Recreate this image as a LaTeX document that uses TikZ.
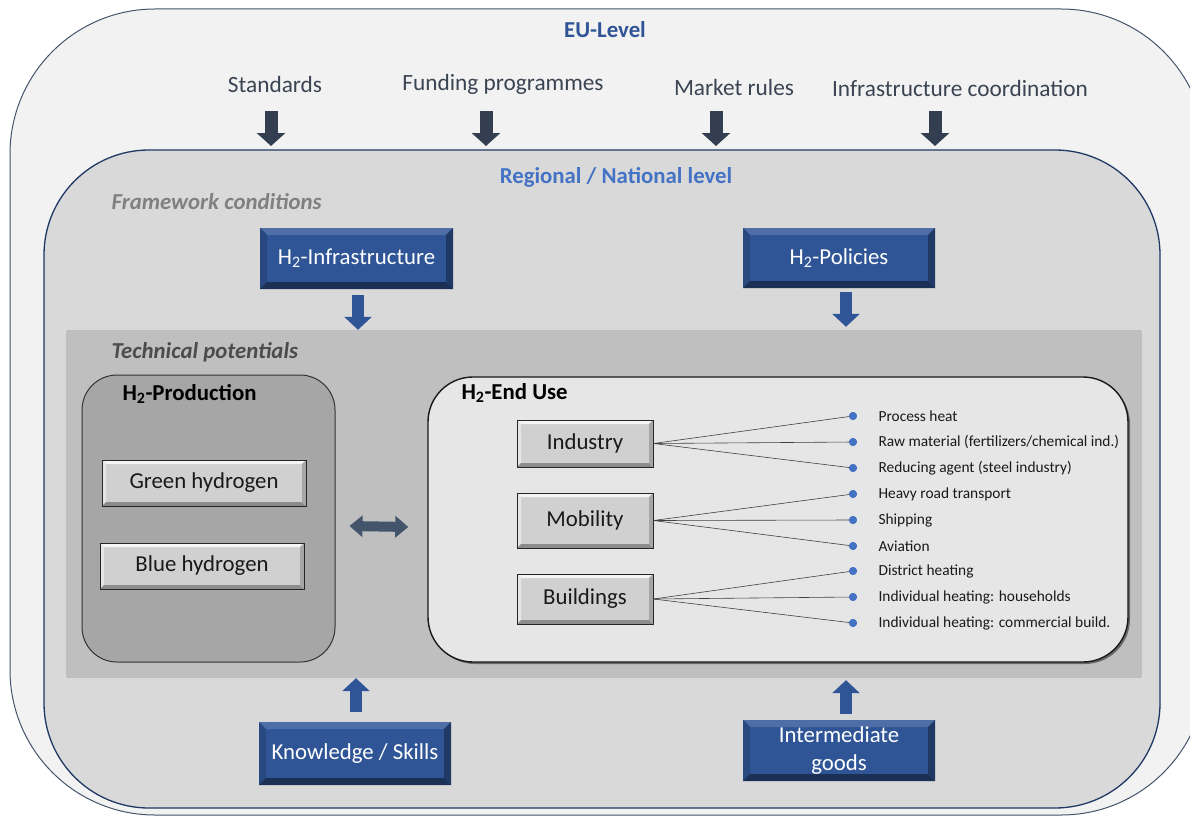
\documentclass[tikz,border=0pt]{standalone}
\usepackage{fontspec}
\setmainfont{Carlito}
\usetikzlibrary{arrows.meta,shadows,calc}
\definecolor{eubg}{HTML}{F2F2F2}
\definecolor{eubd}{HTML}{44546A}
\definecolor{regbg}{HTML}{D9D9D9}
\definecolor{regbd}{HTML}{1F3864}
\definecolor{techbg}{HTML}{BFBFBF}
\definecolor{prodbg}{HTML}{A6A6A6}
\definecolor{endbg}{HTML}{E6E6E6}
\definecolor{eutxt}{HTML}{2F5597}
\definecolor{regtxt}{HTML}{4472C4}
\definecolor{toptxt}{HTML}{3B4452}
\definecolor{toparr}{HTML}{333F50}
\definecolor{bluebox}{HTML}{2F5597}
\definecolor{bluearr}{HTML}{2F5597}
\definecolor{dblarr}{HTML}{44546A}
\definecolor{dotblue}{HTML}{4472C4}
\definecolor{btngray}{HTML}{D0D0D0}
\newcommand\mybevel[5]{%
  \path (path picture bounding box.north west) coordinate (bnw)
        (path picture bounding box.north east) coordinate (bne)
        (path picture bounding box.south east) coordinate (bse)
        (path picture bounding box.south west) coordinate (bsw);
  \fill[#1] (bnw) -- (bne) -- ([xshift=-#5,yshift=-#5]bne) -- ([xshift=#5,yshift=-#5]bnw) -- cycle;
  \fill[#2] (bnw) -- (bsw) -- ([xshift=#5,yshift=#5]bsw) -- ([xshift=#5,yshift=-#5]bnw) -- cycle;
  \fill[#3] (bsw) -- (bse) -- ([xshift=-#5,yshift=#5]bse) -- ([xshift=#5,yshift=#5]bsw) -- cycle;
  \fill[#4] (bne) -- (bse) -- ([xshift=-#5,yshift=#5]bse) -- ([xshift=-#5,yshift=-#5]bne) -- cycle;
}
\begin{document}
\begin{tikzpicture}[x=1pt,y=-1pt,
  gbtn/.style={draw=black!85, line width=0.8pt, fill=btngray, inner sep=0pt,
    font=\fontsize{22.8}{26}\selectfont, text=black!90,
    path picture={\mybevel{white!92!gray}{white!80!gray}{black!45}{black!35}{4pt}}},
  bbox/.style={draw=none, fill=bluebox, inner sep=0pt, text=white,
    font=\fontsize{22.8}{28}\selectfont, align=center,
    path picture={\mybevel{bluebox!85!white}{bluebox!85!black}{regbd!85!black}{regbd}{7pt}}},
  toplbl/.style={font=\fontsize{23.3}{26}\selectfont, text=toptxt},
  toparrow/.style={draw=toparr, line width=13pt, -{Triangle[width=28pt,length=13pt]}},
  bluearrow/.style={draw=bluearr, line width=12.5pt, -{Triangle[width=27pt,length=13pt]}},
  dblarrow/.style={draw=dblarr, line width=10pt, {Triangle[width=21pt,length=13pt]}-{Triangle[width=21pt,length=13pt]}},
  leaf/.style={draw=black!75, line width=0.6pt},
  dot/.style={circle, fill=dotblue, minimum size=8pt, inner sep=0pt},
  usetxt/.style={anchor=west, font=\fontsize{15.4}{18}\selectfont, text=black!90},
  hdr/.style={anchor=west, font=\bfseries\fontsize{22.8}{26}\selectfont}
]
\useasboundingbox (0,0) rectangle (1190,816);
\begin{scope}
\clip (0,0) rectangle (1190,816);
\node[draw=eubd, line width=1pt, fill=eubg, rounded corners=145pt, minimum width=1196pt, minimum height=806pt, inner sep=0pt] (eu) at (608,412) {};
\end{scope}
\node[draw=regbd, line width=1.3pt, fill=regbg, rounded corners=105pt, minimum width=1116pt, minimum height=658pt, inner sep=0pt] (reg) at (602,479) {};
\node[fill=techbg, minimum width=1076pt, minimum height=348pt, inner sep=0pt] (tech) at (604,504) {};

% titles
\node[font=\bfseries\fontsize{22.8}{26}\selectfont, text=eutxt] (eut) at (605,30) {EU-Level};
\node[font=\bfseries\fontsize{22.8}{26}\selectfont, text=regtxt] (regt) at (616,177) {Regional / National level};
\node[anchor=west, font=\bfseries\itshape\fontsize{22.8}{26}\selectfont, text=black!50] (fwt) at (108,202) {Framework conditions};
\node[anchor=west, font=\bfseries\itshape\fontsize{22.8}{26}\selectfont, text=black!70] (tpt) at (108,352) {Technical potentials};

% top labels and arrows
\node[toplbl] (std) at (275,84) {Standards};
\node[toplbl] (fund) at (503,84) {Funding programmes};
\node[toplbl] (mkt) at (734,87) {Market rules};
\node[toplbl] (infc) at (960,88) {Infrastructure coordination};
\foreach \n/\x in {a/271,b/486,c/716,d/935}{
  \coordinate (t\n) at (\x,111);
  \coordinate (e\n) at (\x,146);
  \draw[toparrow] (t\n) -- (e\n);
}

% blue boxes
\node[bbox, minimum width=193pt, minimum height=61pt] (infra) at (356.5,258.5) {H\textsubscript{2}-Infrastructure};
\node[bbox, minimum width=192pt, minimum height=60pt] (pol) at (839,258) {H\textsubscript{2}-Policies};
\node[bbox, minimum width=192pt, minimum height=63pt] (know) at (355,753.5) {Knowledge / Skills};
\node[bbox, minimum width=192pt, minimum height=61pt] (inter) at (839,750.5) {Intermediate\\goods};

\draw[bluearrow] ([xshift=1.5pt,yshift=-6pt]infra.south) -- ([xshift=1.5pt]infra.south |- tech.north);
\draw[bluearrow] ([xshift=7pt,yshift=-4pt]pol.south) -- ([xshift=7pt,yshift=3pt]pol.south |- tech.north);
\draw[bluearrow] ([xshift=1pt,yshift=10pt]know.north) -- ([xshift=1pt]know.north |- tech.south);
\draw[bluearrow] ([xshift=7pt,yshift=6pt]inter.north) -- ([xshift=7pt,yshift=-2pt]inter.north |- tech.south);

% production
\node[draw=black!80, line width=1pt, fill=prodbg, rounded corners=35pt, minimum width=253pt, minimum height=287pt, inner sep=0pt] (prod) at (208.5,518.5) {};
\node[hdr] (prodt) at (119,394) {H\textsubscript{2}-Production};
\node[gbtn, minimum width=204pt, minimum height=46pt] (green) at (204,483) {Green hydrogen};
\node[gbtn, minimum width=204pt, minimum height=46pt] (blue) at (202,566) {Blue hydrogen};

% end use
\node[draw=black!90, line width=1.4pt, fill=endbg, rounded corners=45pt, minimum width=700pt, minimum height=285pt, inner sep=0pt,
  drop shadow={shadow xshift=2pt, shadow yshift=-2pt, opacity=0.45, fill=black}] (enduse) at (778,519.5) {};
\node[hdr] (endt) at (458,393) {H\textsubscript{2}-End Use};

\draw[dblarrow] ([xshift=14pt,yshift=-7.5pt]prod.east) -- ([xshift=-19pt,yshift=-7.5pt]enduse.west);

\node[gbtn, minimum width=136pt, minimum height=47pt] (ind) at (585,443.5) {Industry};
\node[gbtn, minimum width=136pt, minimum height=55pt] (mob) at (585,520.5) {Mobility};
\node[gbtn, minimum width=136pt, minimum height=50pt] (bld) at (585,599) {Buildings};

\foreach \i/\y/\t in {1/416/{Process heat},2/442/{Raw material (fertilizers/chemical ind.)},3/468/{Reducing agent (steel industry)},
  4/494/{Heavy road transport},5/520/{Shipping},6/546/{Aviation},7/571/{District heating},8/597/{Individual heating: households},9/623/{Individual heating: commercial build.}}{
  \node[dot] (d\i) at (853,\y) {};
  \node[usetxt] (l\i) at (875,\y) {\t};
}
\foreach \i in {1,2,3}{\draw[leaf] (ind.east) -- (d\i.center);}
\foreach \i in {4,5,6}{\draw[leaf] (mob.east) -- (d\i.center);}
\foreach \i in {7,8,9}{\draw[leaf] (bld.east) -- (d\i.center);}
\foreach \i in {1,...,9}{\node[dot] at (d\i) {};}
\end{tikzpicture}
\end{document}
